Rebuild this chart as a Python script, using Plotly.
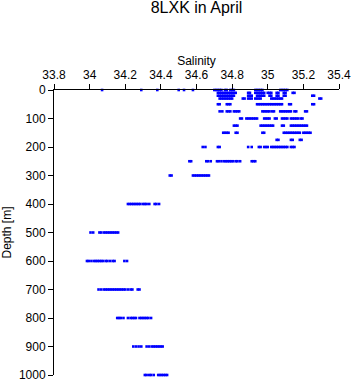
import plotly.graph_objects as go

depths = [0, 10, 20, 30, 50, 75, 100, 125, 150, 175, 200, 250, 300, 400, 500, 600, 700, 800, 900, 1000]

s_d0 = [34.07, 34.29, 34.38, 34.50, 34.53, 34.58, 34.70, 34.71, 34.72, 34.73, 34.74, 34.76, 34.77, 34.79, 34.80, 34.81,
        34.93, 34.94, 34.95, 34.96, 34.97, 35.07, 35.08, 35.09, 35.10, 35.11]
s_d10 = [34.72, 34.73, 34.74, 34.75, 34.76, 34.77, 34.78, 34.79, 34.80, 34.81, 34.82, 34.89, 34.90, 34.93, 34.94, 34.95,
         34.96, 34.97, 34.98, 35.00, 35.01, 35.02, 35.05, 35.06, 35.09, 35.10, 35.14, 35.15]
s_d20 = [34.72, 34.73, 34.74, 34.75, 34.76, 34.77, 34.78, 34.79, 34.80, 34.81, 34.89, 34.90, 34.91, 34.94, 34.95, 34.96,
         34.97, 34.98, 35.01, 35.02, 35.05, 35.06, 35.09, 35.10, 35.25, 35.26]
s_d30 = [34.73, 34.74, 34.75, 34.76, 34.77, 34.78, 34.79, 34.80, 34.86, 34.87, 34.89, 34.90, 34.91, 34.93, 34.94, 34.95,
         34.96, 35.02, 35.03, 35.04, 35.05, 35.06, 35.07, 35.08, 35.29, 35.30]
s_d50 = [34.72, 34.73, 34.77, 34.78, 34.79, 34.94, 34.95, 34.96, 34.97, 34.98, 34.99, 35.00, 35.01, 35.02, 35.03, 35.04,
         35.05, 35.06, 35.07, 35.08, 35.12, 35.13, 35.25, 35.26]
s_d75 = [34.73, 34.745, 34.77, 34.78, 34.79, 34.81, 34.82, 34.83, 34.84, 34.97, 34.98, 34.99, 35.00, 35.01, 35.025,
         35.035, 35.07, 35.08, 35.09, 35.10, 35.11, 35.12, 35.13, 35.15, 35.16, 35.21, 35.22]
s_d100 = [34.845, 34.855, 34.88, 34.89, 34.90, 34.91, 34.92, 34.93, 34.94, 34.98, 34.99, 35.00, 35.01, 35.04, 35.05,
          35.08, 35.09, 35.10, 35.11, 35.13, 35.14, 35.15, 35.16, 35.17, 35.185, 35.195]
s_d125 = [34.81, 34.82, 34.83, 34.96, 34.97, 34.98, 34.99, 35.00, 35.01, 35.02, 35.03, 35.08, 35.09, 35.13, 35.14,
          35.15, 35.16, 35.17, 35.18, 35.19, 35.20, 35.21, 35.22]
s_d150 = [34.75, 34.76, 34.77, 34.78, 34.82, 34.83, 34.97, 34.98, 35.09, 35.10, 35.11, 35.12, 35.13, 35.14, 35.15,
          35.16, 35.17, 35.18, 35.20, 35.21, 35.22, 35.23, 35.24]
s_d175 = [35.05, 35.06, 35.13, 35.14, 35.18, 35.19]
s_d200 = [34.635, 34.65, 34.72, 34.73, 34.89, 34.91, 34.95, 34.96, 34.98, 34.99, 35.00, 35.02, 35.03, 35.04, 35.05,
          35.06, 35.07, 35.08, 35.09, 35.10, 35.11, 35.13, 35.14, 35.15]
s_d250 = [34.56, 34.57, 34.655, 34.665, 34.68, 34.715, 34.725, 34.74, 34.755, 34.765, 34.775, 34.785, 34.795, 34.805,
          34.82, 34.83, 34.845, 34.91, 34.92, 34.93]
s_d300 = [34.45, 34.46, 34.58, 34.59, 34.60, 34.61, 34.62, 34.63, 34.64, 34.65, 34.66, 34.67]
s_d400 = [34.215, 34.225, 34.235, 34.245, 34.255, 34.265, 34.275, 34.285, 34.30, 34.31, 34.32, 34.335, 34.365, 34.375,
          34.39]
s_d500 = [34.005, 34.02, 34.055, 34.065, 34.08, 34.09, 34.10, 34.11, 34.12, 34.13, 34.14, 34.15, 34.16]
s_d600 = [33.985, 33.995, 34.01, 34.025, 34.035, 34.045, 34.055, 34.065, 34.075, 34.09, 34.10, 34.115, 34.13, 34.14,
          34.195, 34.21]
s_d700 = [34.05, 34.065, 34.08, 34.09, 34.10, 34.11, 34.12, 34.13, 34.14, 34.15, 34.16, 34.17, 34.18, 34.19, 34.20,
          34.215, 34.23, 34.24, 34.27, 34.28]
s_d800 = [34.155, 34.165, 34.175, 34.19, 34.215, 34.23, 34.24, 34.25, 34.26, 34.28, 34.29, 34.30, 34.31, 34.32, 34.33,
          34.345]
s_d900 = [34.245, 34.26, 34.275, 34.29, 34.32, 34.335, 34.35, 34.36, 34.37, 34.38, 34.39, 34.40, 34.41]
s_d1000 = [34.31, 34.32, 34.335, 34.345, 34.36, 34.385, 34.395, 34.405, 34.415, 34.425, 34.435]

salinity_rows = [s_d0, s_d10, s_d20, s_d30, s_d50, s_d75, s_d100, s_d125, s_d150, s_d175, s_d200, s_d250, s_d300,
                 s_d400, s_d500, s_d600, s_d700, s_d800, s_d900, s_d1000]

x_ticks = [33.8, 34, 34.2, 34.4, 34.6, 34.8, 35, 35.2, 35.4]
x_tick_text = ["33.8", "34", "34.2", "34.4", "34.6", "34.8", "35", "35.2", "35.4"]
y_ticks = [0, 100, 200, 300, 400, 500, 600, 700, 800, 900, 1000]

xs, ys = [], []
for d, row in zip(depths, salinity_rows):
    for s in row:
        xs.append(s)
        ys.append(d)

font = "Liberation Sans, Arial, sans-serif"

fig = go.Figure(go.Scatter(
    x=xs, y=ys, mode="markers",
    marker=dict(symbol="square", size=2.6, color="#0000ff", line=dict(width=0)),
    cliponaxis=False, showlegend=False,
))

fig.update_layout(
    width=353, height=384,
    margin=dict(l=54, r=14, t=90, b=9),
    paper_bgcolor="white", plot_bgcolor="white",
    font=dict(family=font, size=12, color="black"),
    title=dict(text="8LXK in April", x=0.5, xanchor="center", xref="paper",
               y=0.995, yanchor="top", yref="container",
               font=dict(family=font, size=16, color="black")),
)
fig.update_xaxes(
    side="top", range=[33.8, 35.4], tickvals=x_ticks, ticktext=x_tick_text,
    showgrid=False, zeroline=False, showline=True, linecolor="black", linewidth=1,
    ticks="outside", ticklen=5, tickcolor="black", automargin=False,
    tickfont=dict(family=font, size=12),
    title=dict(text="Salinity", standoff=0, font=dict(family=font, size=12)),
)
fig.update_yaxes(
    range=[1000, 0], tickvals=y_ticks, automargin=False,
    showgrid=False, zeroline=False, showline=True, linecolor="black", linewidth=1,
    ticks="outside", ticklen=5, tickcolor="black",
    tickfont=dict(family=font, size=12),
    title=dict(text="Depth [m]", standoff=8, font=dict(family=font, size=12)),
)

fig.write_html("out.html")
